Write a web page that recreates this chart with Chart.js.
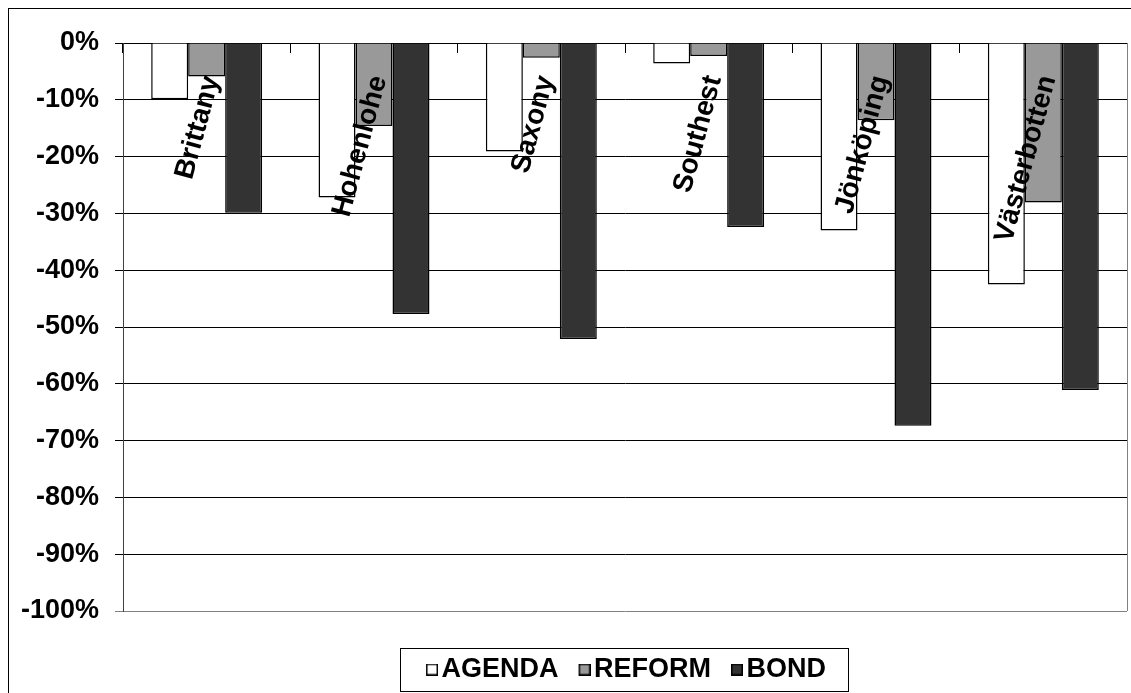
<!DOCTYPE html>
<html>
<head>
<meta charset="utf-8">
<script src="https://cdn.jsdelivr.net/npm/chart.js@4/dist/chart.umd.min.js"></script>
<style>
  html, body { margin: 0; padding: 0; background: #fff; }
</style>
</head>
<body>
<canvas id="chart" width="1131" height="693"></canvas>
<script>
// Regions and the change (in %) for each measure
const regions = ['Brittany', 'Hohenlohe', 'Saxony', 'Southest', 'Jönköping', 'Västerbotten'];
const agenda  = [-9.9, -27.2, -19.1, -3.6, -33.0, -42.5];
const reform  = [-5.9, -14.6, -2.6, -2.3, -13.6, -28.1];
const bond    = [-29.9, -47.7, -52.1, -32.4, -67.4, -61.1];
const seriesNames = ['AGENDA', 'REFORM', 'BOND'];

const FONT = "'Liberation Sans', Arial, sans-serif";
const fills = ['#ffffff', '#999999', '#333333'];
const values = [agenda, reform, bond];

// Small square swatches for the legend; the visible square sits in the right
// half of the image so it hugs the label text.
function swatch(fill) {
  const cv = document.createElement('canvas');
  cv.width = 24;
  cv.height = 12;
  const g = cv.getContext('2d');
  g.fillStyle = fill;
  g.fillRect(12, 0, 12, 12);
  g.strokeStyle = '#000';
  g.lineWidth = 1.5;
  g.strokeRect(12.75, 0.75, 10.5, 10.5);
  return cv;
}
const swatches = fills.map(swatch);

// White page, outer frame, right edge of the plot and the boxed legend
const framePlugin = {
  id: 'frame',
  beforeDraw(chart) {
    const c = chart.ctx;
    c.save();
    c.fillStyle = '#fff';
    c.fillRect(0, 0, chart.width, chart.height);
    c.strokeStyle = '#000';
    c.lineWidth = 1;
    c.strokeRect(8.5, 8.5, chart.width + 20, chart.height + 20);
    c.restore();
  },
  afterDraw(chart) {
    const c = chart.ctx;
    const a = chart.chartArea;
    c.save();
    c.strokeStyle = '#808080';
    c.lineWidth = 1;
    c.beginPath();
    c.moveTo(Math.round(a.right) + 0.5, a.top);
    c.lineTo(Math.round(a.right) + 0.5, a.bottom);
    c.stroke();

    const boxes = chart.legend.legendHitBoxes;
    if (boxes && boxes.length) {
      const left = Math.min(...boxes.map(b => b.left)) + 2 - 26;
      const right = Math.max(...boxes.map(b => b.left + b.width)) + 22;
      const mid = boxes[0].top + boxes[0].height / 2;
      c.strokeStyle = '#000';
      c.strokeRect(Math.round(left) + 0.5, Math.round(mid - 21.5) + 0.5, Math.round(right - left), 43);
    }
    c.restore();
  }
};

new Chart(document.getElementById('chart'), {
  type: 'bar',
  data: {
    labels: regions,
    datasets: seriesNames.map((name, i) => ({
      label: name,
      data: values[i],
      backgroundColor: fills[i],
      borderColor: '#000',
      borderWidth: 1.5,
      categoryPercentage: 0.663,
      barPercentage: 1
    }))
  },
  options: {
    responsive: false,
    animation: false,
    layout: { padding: { top: 43, right: 4, left: 0, bottom: 0 } },
    plugins: {
      tooltip: { enabled: false },
      legend: {
        position: 'bottom',
        fullSize: false,
        title: { display: true, text: '', font: { size: 1, lineHeight: 1 }, padding: { top: 26, bottom: 0 } },
        labels: {
          color: '#000',
          font: { family: FONT, size: 27, weight: 'bold' },
          usePointStyle: true,
          pointStyleWidth: 4,
          boxHeight: 12,
          padding: 18,
          generateLabels(chart) {
            const items = Chart.defaults.plugins.legend.labels.generateLabels(chart);
            items.forEach((it, i) => { it.pointStyle = swatches[i]; });
            return items;
          }
        }
      }
    },
    scales: {
      x: {
        position: { y: 0 },
        grid: { drawOnChartArea: false, drawTicks: true, tickLength: 9, color: '#000', offset: true },
        border: { color: '#000', width: 1 },
        ticks: {
          z: 1,
          autoSkip: false,
          minRotation: 75,
          maxRotation: 75,
          padding: 20,
          labelOffset: 5,
          color: '#000',
          font: { family: FONT, size: 28, weight: 'bold' }
        }
      },
      y: {
        min: -100,
        max: 0,
        afterFit(scale) { scale.width = 123; },
        grid: {
          color: ctx => (ctx.tick && ctx.tick.value === -100) ? '#808080' : '#000',
          tickLength: 8,
          lineWidth: 1
        },
        border: { color: '#404040', width: 1 },
        ticks: {
          stepSize: 10,
          padding: 16,
          color: '#000',
          font: { family: FONT, size: 27, weight: 'bold' },
          callback: v => v + '%'
        }
      }
    }
  },
  plugins: [framePlugin]
});
</script>
</body>
</html>
